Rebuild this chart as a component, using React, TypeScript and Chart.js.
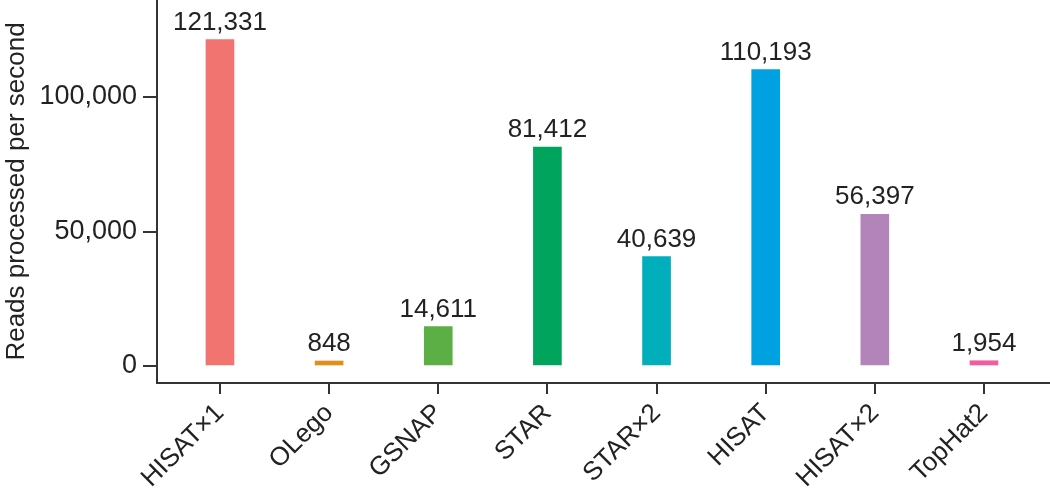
import React, { useEffect, useRef } from "react";
import { Chart, registerables } from "chart.js";

Chart.register(...registerables);

const categories = ["HISAT×1", "OLego", "GSNAP", "STAR", "STAR×2", "HISAT", "HISAT×2", "TopHat2"];
const readsPerSecond = [121331, 848, 14611, 81412, 40639, 110193, 56397, 1954];
const barColors = ["#F17470", "#DF8F1C", "#5BAF45", "#00A45C", "#00AFBB", "#00A1E0", "#B384BA", "#EF5EA0"];
const yTicks = [0, 50000, 100000];

const FONT = "'Liberation Sans', Arial, Helvetica, sans-serif";
const TEXT = "#222222";
const AXIS = "#333333";

const fmt = (v: number) => v.toLocaleString("en-US");

const valueLabels = {
  id: "valueLabels",
  afterDatasetsDraw(chart: any) {
    const ctx = chart.ctx;
    const meta = chart.getDatasetMeta(0);
    ctx.save();
    ctx.font = `26px ${FONT}`;
    ctx.fillStyle = TEXT;
    ctx.textAlign = "center";
    ctx.textBaseline = "alphabetic";
    meta.data.forEach((el: any, i: number) => {
      ctx.fillText(fmt(readsPerSecond[i]), el.x, el.y - 10);
    });
    ctx.restore();
  },
};

export default function App() {
  const ref = useRef<HTMLCanvasElement | null>(null);
  useEffect(() => {
    document.body.style.margin = "0";
    if (!ref.current) return;
    const chart = new Chart(ref.current, {
      type: "bar",
      data: {
        datasets: [
          {
            data: readsPerSecond.map((v, i) => ({ x: i, y: v })),
            backgroundColor: barColors,
            borderWidth: 0,
            barThickness: 28,
            minBarLength: 5,
          },
        ],
      },
      plugins: [valueLabels],
      options: {
        animation: false,
        responsive: false,
        devicePixelRatio: 1,
        layout: { padding: 0 },
        plugins: { legend: { display: false }, tooltip: { enabled: false } },
        scales: {
          x: {
            type: "linear",
            min: -0.577,
            max: 7.605,
            offset: false,
            border: { display: true, color: AXIS, width: 2 },
            grid: { display: true, offset: false, drawOnChartArea: false, drawTicks: true, tickLength: 11, color: AXIS, lineWidth: 2 },
            ticks: {
              stepSize: 1,
              includeBounds: false,
              autoSkip: false,
              minRotation: 45,
              maxRotation: 45,
              padding: 4,
              color: TEXT,
              font: { family: FONT, size: 26 },
              callback: (v: any) => categories[v] ?? "",
            },
            afterBuildTicks: (s: any) => {
              s.ticks = categories.map((_, i) => ({ value: i }));
            },
            afterFit: (s: any) => {
              s.height = 108;
              s.paddingLeft = 0;
              s.paddingRight = 0;
            },
          },
          y: {
            type: "linear",
            min: -6320,
            max: 136060,
            border: { display: true, color: AXIS, width: 2 },
            grid: { display: true, drawOnChartArea: false, drawTicks: true, tickLength: 14, color: AXIS, lineWidth: 2 },
            ticks: {
              includeBounds: false,
              padding: 6,
              color: TEXT,
              font: { family: FONT, size: 27 },
              callback: (v: any) => fmt(Number(v)),
            },
            afterBuildTicks: (s: any) => {
              s.ticks = yTicks.map((v) => ({ value: v }));
            },
            title: {
              display: true,
              text: "Reads processed per second",
              color: TEXT,
              font: { family: FONT, size: 26 },
              padding: { top: 1, bottom: 0 },
            },
            afterFit: (s: any) => {
              s.width = 157;
              s.paddingTop = 0;
              s.paddingBottom = 0;
            },
          },
        },
      },
    } as any);
    return () => chart.destroy();
  }, []);
  return (
    <div style={{ width: 1050, height: 491 }}>
      <canvas ref={ref} width={1050} height={491} style={{ display: "block" }} />
    </div>
  );
}
